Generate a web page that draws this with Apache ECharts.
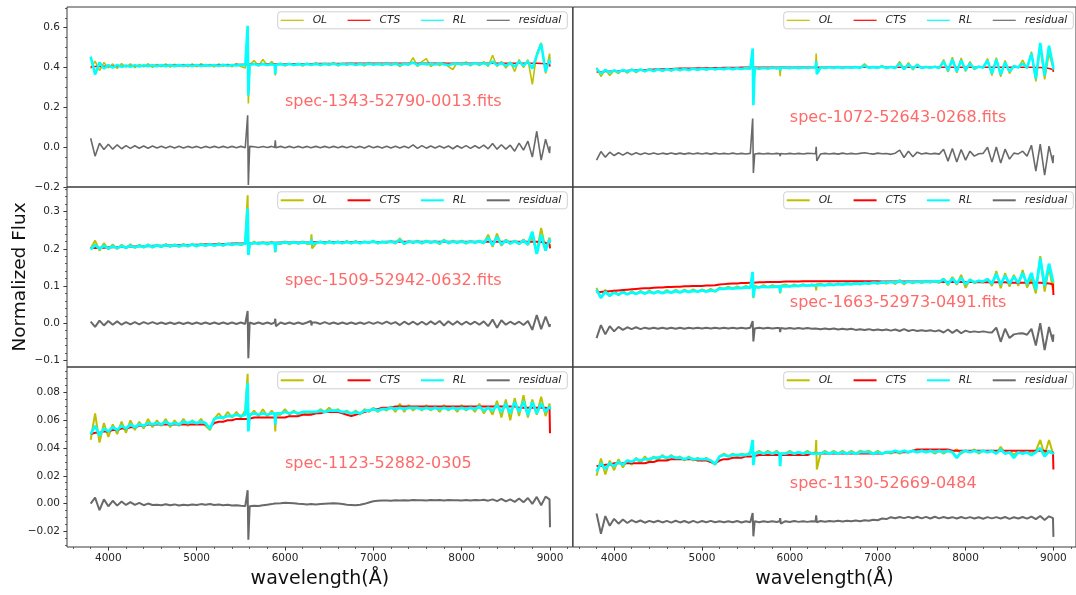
<!DOCTYPE html>
<html>
<head>
<meta charset="utf-8">
<script src="https://cdn.jsdelivr.net/npm/echarts@6/dist/echarts.min.js"></script>
<style>
html,body{margin:0;padding:0;background:#fff}
#chart{width:1076px;height:595px}
</style>
</head>
<body>
<div id="chart"></div>
<script>
// Sampled wavelengths (Angstrom), shared by every spectrum
const WAVE = [
  3800,3850,3900,3950,4000,4050,4100,4150,
  4200,4250,4300,4350,4400,4450,4500,4550,
  4600,4650,4700,4750,4800,4850,4900,4950,
  5000,5050,5100,5150,5200,5250,5300,5350,
  5400,5450,5500,5550,5570,5577,5585,
  5600,5650,5700,5750,5800,5850,5883,5890,5897,
  5950,6000,6050,6100,6150,6200,6250,6293,6300,6307,
  6350,6400,6450,6500,6550,6600,6650,6700,
  6750,6800,6850,6900,6950,7000,7050,7100,
  7150,7200,7250,7300,7350,7400,7450,7500,
  7550,7600,7650,7700,7750,7800,7850,7900,
  7950,8000,8050,8100,8150,8200,8250,8300,
  8350,8400,8450,8500,8550,8600,8650,8700,
  8750,8800,8850,8900,8950,8995,9000
];

// ---- spec-1343-52790-0013 ----
const OL_1343 = [
  0.395,0.432,0.385,0.425,0.398,0.418,0.395,0.42,
  0.402,0.418,0.400,0.416,0.403,0.419,0.401,0.415,
  0.404,0.418,0.402,0.417,0.405,0.416,0.403,0.418,
  0.404,0.419,0.405,0.415,0.403,0.418,0.406,0.417,
  0.404,0.42,0.405,0.398,0.43,0.58,0.22,
  0.415,0.435,0.408,0.44,0.41,0.43,0.412,0.36,0.41,
  0.422,0.408,0.421,0.41,0.42,0.407,0.422,0.41,0.42,0.412,
  0.423,0.409,0.42,0.41,0.424,0.408,0.421,0.411,
  0.422,0.41,0.42,0.408,0.424,0.412,0.42,0.41,
  0.423,0.41,0.422,0.405,0.42,0.412,0.45,0.405,
  0.43,0.445,0.405,0.422,0.41,0.425,0.405,0.39,
  0.425,0.412,0.428,0.408,0.425,0.41,0.43,0.405,
  0.462,0.405,0.43,0.398,0.428,0.38,0.44,0.40,
  0.44,0.315,0.47,0.524,0.37,0.47,0.44
];
const CTS_1343 = [
  0.404,0.405,0.405,0.406,0.406,0.407,0.407,0.407,
  0.408,0.408,0.408,0.409,0.409,0.409,0.41,0.41,
  0.41,0.41,0.411,0.411,0.411,0.411,0.412,0.412,
  0.412,0.412,0.413,0.412,0.413,0.413,0.414,0.414,
  0.414,0.415,0.415,0.416,0.416,0.416,0.416,
  0.416,0.417,0.417,0.417,0.418,0.418,0.418,0.416,0.418,
  0.418,0.418,0.419,0.419,0.419,0.419,0.419,0.419,0.419,0.419,
  0.42,0.42,0.42,0.42,0.42,0.42,0.42,0.421,
  0.421,0.421,0.421,0.421,0.421,0.421,0.421,0.421,
  0.421,0.421,0.421,0.421,0.421,0.421,0.421,0.421,
  0.421,0.421,0.421,0.421,0.421,0.421,0.421,0.421,
  0.421,0.421,0.421,0.421,0.421,0.421,0.421,0.421,
  0.421,0.421,0.421,0.421,0.421,0.421,0.421,0.421,
  0.421,0.421,0.421,0.42,0.419,0.418,0.405
];
const RL_1343 = [
  0.455,0.365,0.425,0.395,0.412,0.40,0.413,0.403,
  0.41,0.404,0.412,0.405,0.411,0.406,0.412,0.406,
  0.412,0.407,0.413,0.407,0.412,0.408,0.413,0.408,
  0.413,0.408,0.412,0.409,0.413,0.408,0.414,0.409,
  0.413,0.41,0.414,0.41,0.42,0.61,0.26,
  0.413,0.418,0.412,0.418,0.413,0.417,0.413,0.367,0.414,
  0.417,0.413,0.418,0.413,0.417,0.414,0.418,0.414,0.418,0.414,
  0.418,0.414,0.418,0.415,0.419,0.414,0.418,0.415,
  0.419,0.414,0.418,0.415,0.419,0.415,0.418,0.415,
  0.419,0.415,0.419,0.414,0.418,0.416,0.425,0.413,
  0.42,0.416,0.419,0.415,0.42,0.416,0.413,0.418,
  0.42,0.416,0.42,0.415,0.421,0.416,0.422,0.414,
  0.43,0.412,0.422,0.41,0.422,0.405,0.43,0.41,
  0.43,0.395,0.46,0.52,0.38,0.44,0.42
];
const RES_1343 = [
  0.045,-0.045,0.02,-0.012,0.015,-0.01,0.012,-0.008,
  0.008,-0.006,0.007,-0.005,0.006,-0.005,0.006,-0.004,
  0.005,-0.004,0.005,-0.004,0.005,-0.004,0.004,-0.003,
  0.004,-0.004,0.004,-0.003,0.004,-0.003,0.004,-0.003,
  0.004,-0.003,0.004,-0.003,0.005,0.16,-0.19,
  0.004,0.002,-0.002,0.003,-0.002,0.004,-0.002,0.035,-0.003,
  0.004,-0.003,0.004,-0.003,0.004,-0.003,0.004,-0.003,0.004,-0.003,
  0.004,-0.003,0.004,-0.003,0.004,-0.003,0.004,-0.003,
  0.005,-0.003,0.004,-0.004,0.006,-0.003,0.004,-0.004,
  0.005,-0.004,0.005,-0.004,0.005,-0.004,0.012,-0.006,
  0.008,-0.005,0.006,-0.004,0.006,-0.004,0.006,-0.008,
  0.007,-0.005,0.008,-0.006,0.007,-0.005,0.01,-0.008,
  0.018,-0.01,0.012,-0.01,0.01,-0.02,0.02,-0.015,
  0.03,-0.05,0.08,-0.065,0.04,-0.03,0.005
];

// ---- spec-1072-52643-0268 ----
const OL_1072 = [
  0.40,0.355,0.39,0.36,0.385,0.37,0.39,0.372,
  0.392,0.375,0.39,0.378,0.393,0.38,0.392,0.382,
  0.394,0.382,0.395,0.384,0.396,0.386,0.396,0.386,
  0.397,0.388,0.398,0.389,0.397,0.39,0.399,0.39,
  0.399,0.391,0.40,0.392,0.40,0.47,0.22,
  0.40,0.392,0.40,0.393,0.401,0.394,0.40,0.357,0.40,
  0.402,0.395,0.401,0.396,0.402,0.396,0.40,0.398,0.47,0.39,
  0.403,0.396,0.403,0.397,0.404,0.396,0.403,0.398,
  0.404,0.398,0.418,0.398,0.404,0.397,0.41,0.395,
  0.405,0.396,0.43,0.39,0.425,0.388,0.418,0.396,
  0.404,0.398,0.405,0.395,0.44,0.378,0.452,0.373,
  0.448,0.38,0.43,0.39,0.406,0.398,0.445,0.36,
  0.45,0.353,0.435,0.37,0.41,0.40,0.437,0.395,
  0.48,0.33,0.50,0.34,0.47,0.40,0.38
];
const CTS_1072 = [
  0.378,0.379,0.38,0.381,0.382,0.383,0.384,0.385,
  0.386,0.387,0.388,0.389,0.39,0.391,0.392,0.393,
  0.394,0.394,0.395,0.396,0.396,0.397,0.397,0.398,
  0.398,0.398,0.399,0.399,0.399,0.40,0.40,0.40,
  0.40,0.401,0.401,0.401,0.401,0.401,0.401,
  0.401,0.401,0.402,0.402,0.402,0.402,0.402,0.401,0.402,
  0.402,0.402,0.402,0.402,0.402,0.402,0.402,0.402,0.402,0.402,
  0.402,0.402,0.402,0.402,0.402,0.402,0.402,0.402,
  0.402,0.402,0.402,0.402,0.402,0.402,0.402,0.402,
  0.402,0.402,0.402,0.402,0.402,0.402,0.402,0.402,
  0.402,0.402,0.402,0.402,0.402,0.402,0.402,0.402,
  0.402,0.402,0.402,0.402,0.402,0.402,0.402,0.402,
  0.402,0.402,0.402,0.402,0.401,0.401,0.401,0.401,
  0.401,0.40,0.40,0.399,0.395,0.39,0.378
];
const RL_1072 = [
  0.395,0.37,0.388,0.374,0.386,0.377,0.388,0.379,
  0.389,0.381,0.39,0.382,0.39,0.383,0.391,0.384,
  0.392,0.386,0.393,0.387,0.393,0.388,0.394,0.389,
  0.394,0.39,0.395,0.391,0.395,0.392,0.396,0.392,
  0.396,0.393,0.397,0.394,0.40,0.496,0.211,
  0.398,0.395,0.398,0.395,0.399,0.396,0.399,0.385,0.399,
  0.40,0.397,0.40,0.397,0.40,0.398,0.40,0.40,0.43,0.367,
  0.401,0.398,0.401,0.398,0.402,0.398,0.401,0.399,
  0.402,0.399,0.41,0.399,0.402,0.399,0.405,0.398,
  0.403,0.398,0.42,0.392,0.415,0.395,0.412,0.398,
  0.403,0.399,0.404,0.397,0.43,0.385,0.44,0.38,
  0.435,0.388,0.42,0.395,0.404,0.40,0.435,0.37,
  0.44,0.365,0.425,0.38,0.408,0.40,0.42,0.398,
  0.47,0.345,0.524,0.36,0.51,0.41,0.39
];
const RES_1072 = [
  -0.065,-0.022,-0.05,-0.025,-0.042,-0.028,-0.04,-0.027,
  -0.038,-0.028,-0.037,-0.029,-0.036,-0.029,-0.036,-0.03,
  -0.035,-0.029,-0.035,-0.03,-0.035,-0.03,-0.034,-0.03,
  -0.034,-0.03,-0.035,-0.03,-0.034,-0.031,-0.034,-0.03,
  -0.034,-0.031,-0.034,-0.031,-0.03,0.144,-0.13,
  -0.034,-0.031,-0.034,-0.031,-0.034,-0.031,-0.033,-0.045,-0.032,
  -0.034,-0.031,-0.034,-0.031,-0.034,-0.031,-0.032,-0.033,0.0015,-0.069,
  -0.034,-0.031,-0.034,-0.031,-0.035,-0.03,-0.034,-0.031,
  -0.034,-0.031,-0.028,-0.032,-0.035,-0.03,-0.033,-0.032,
  -0.036,-0.03,-0.015,-0.052,-0.02,-0.048,-0.025,-0.034,
  -0.03,-0.034,-0.031,-0.035,-0.01,-0.07,-0.007,-0.074,
  -0.012,-0.065,-0.02,-0.045,-0.033,-0.031,0.0,-0.075,
  0.001,-0.08,-0.01,-0.06,-0.03,-0.034,-0.02,-0.045,
  0.01,-0.12,0.015,-0.141,0.005,-0.08,-0.04
];

// ---- spec-1509-52942-0632 ----
const OL_1509 = [
  0.20,0.222,0.195,0.215,0.198,0.212,0.199,0.211,
  0.201,0.212,0.202,0.211,0.203,0.212,0.203,0.211,
  0.204,0.213,0.205,0.212,0.205,0.213,0.206,0.212,
  0.206,0.214,0.207,0.213,0.208,0.215,0.208,0.214,
  0.209,0.216,0.21,0.215,0.22,0.344,0.19,
  0.211,0.219,0.212,0.218,0.211,0.219,0.213,0.19,0.214,
  0.213,0.22,0.212,0.219,0.213,0.22,0.213,0.214,0.239,0.201,
  0.214,0.22,0.213,0.221,0.214,0.22,0.214,0.221,
  0.214,0.221,0.214,0.22,0.215,0.222,0.214,0.22,
  0.215,0.221,0.214,0.228,0.212,0.221,0.215,0.222,
  0.214,0.222,0.215,0.221,0.212,0.225,0.214,0.222,
  0.215,0.222,0.214,0.221,0.215,0.222,0.214,0.238,
  0.205,0.241,0.208,0.225,0.213,0.222,0.212,0.225,
  0.21,0.232,0.19,0.256,0.198,0.23,0.215
];
const CTS_1509 = [
  0.202,0.202,0.203,0.203,0.204,0.204,0.205,0.205,
  0.205,0.206,0.206,0.207,0.207,0.207,0.208,0.208,
  0.208,0.209,0.209,0.209,0.21,0.21,0.21,0.211,
  0.211,0.211,0.212,0.212,0.212,0.213,0.213,0.213,
  0.214,0.214,0.214,0.215,0.215,0.215,0.215,
  0.215,0.215,0.216,0.216,0.216,0.216,0.216,0.215,0.216,
  0.217,0.217,0.217,0.217,0.217,0.217,0.217,0.217,0.217,0.217,
  0.218,0.218,0.218,0.218,0.218,0.218,0.218,0.218,
  0.218,0.218,0.218,0.218,0.218,0.218,0.218,0.218,
  0.219,0.219,0.219,0.219,0.219,0.219,0.219,0.219,
  0.219,0.219,0.219,0.219,0.219,0.219,0.219,0.219,
  0.219,0.219,0.219,0.219,0.219,0.219,0.219,0.219,
  0.219,0.219,0.219,0.219,0.219,0.219,0.219,0.219,
  0.219,0.219,0.219,0.218,0.216,0.212,0.201
];
const RL_1509 = [
  0.198,0.21,0.2,0.208,0.201,0.207,0.202,0.207,
  0.203,0.208,0.204,0.208,0.205,0.209,0.205,0.209,
  0.206,0.21,0.207,0.21,0.207,0.21,0.208,0.211,
  0.208,0.211,0.209,0.212,0.209,0.212,0.21,0.213,
  0.211,0.213,0.212,0.214,0.215,0.308,0.183,
  0.213,0.216,0.214,0.216,0.214,0.216,0.215,0.192,0.215,
  0.215,0.217,0.215,0.217,0.215,0.217,0.216,0.216,0.225,0.212,
  0.216,0.218,0.216,0.218,0.216,0.218,0.216,0.218,
  0.216,0.218,0.216,0.218,0.217,0.219,0.216,0.218,
  0.217,0.219,0.216,0.224,0.214,0.219,0.217,0.219,
  0.216,0.22,0.217,0.219,0.215,0.222,0.216,0.219,
  0.217,0.219,0.216,0.219,0.217,0.22,0.216,0.23,
  0.21,0.232,0.212,0.222,0.215,0.22,0.214,0.222,
  0.212,0.246,0.186,0.238,0.195,0.226,0.218
];
const RES_1509 = [
  0.004,-0.01,0.007,-0.006,0.006,-0.004,0.005,-0.004,
  0.003,-0.003,0.003,-0.003,0.003,-0.002,0.003,-0.002,
  0.002,-0.002,0.002,-0.002,0.002,-0.002,0.002,-0.002,
  0.002,-0.002,0.002,-0.002,0.002,-0.002,0.002,-0.002,
  0.002,-0.002,0.002,-0.002,0.003,0.033,-0.094,
  0.002,-0.002,0.002,-0.002,0.002,-0.002,0.002,0.012,-0.008,
  0.002,-0.002,0.002,-0.002,0.002,-0.002,0.002,0.006,-0.006,0.002,
  0.002,-0.002,0.003,-0.002,0.002,-0.002,0.002,-0.002,
  0.002,-0.002,0.002,-0.002,0.003,-0.002,0.003,-0.002,
  0.004,-0.002,0.003,-0.005,0.004,-0.003,0.004,-0.004,
  0.004,-0.004,0.005,-0.003,0.006,-0.006,0.005,-0.004,
  0.005,-0.004,0.004,-0.003,0.004,-0.004,0.005,-0.008,
  0.01,-0.012,0.008,-0.004,0.004,-0.003,0.004,-0.005,
  0.006,-0.018,0.022,-0.016,0.018,-0.01,-0.002
];

// ---- spec-1663-52973-0491 ----
const OL_1663 = [
  0.095,0.068,0.09,0.072,0.088,0.075,0.087,0.077,
  0.086,0.078,0.087,0.079,0.088,0.08,0.087,0.081,
  0.089,0.082,0.09,0.083,0.09,0.084,0.091,0.085,
  0.091,0.086,0.092,0.085,0.096,0.092,0.098,0.093,
  0.099,0.094,0.1,0.095,0.1,0.13,0.067,
  0.101,0.096,0.102,0.097,0.102,0.098,0.1,0.08,0.101,
  0.104,0.098,0.104,0.099,0.105,0.1,0.104,0.1,0.088,0.105,
  0.106,0.101,0.107,0.102,0.107,0.103,0.108,0.104,
  0.109,0.104,0.109,0.105,0.11,0.106,0.111,0.106,
  0.113,0.105,0.116,0.104,0.114,0.107,0.113,0.108,
  0.112,0.109,0.113,0.108,0.12,0.102,0.124,0.103,
  0.13,0.095,0.118,0.107,0.114,0.109,0.12,0.1,
  0.14,0.094,0.135,0.098,0.13,0.1,0.143,0.096,
  0.12,0.08,0.18,0.085,0.15,0.09,0.11
];
const CTS_1663 = [
  0.083,0.084,0.085,0.086,0.087,0.088,0.089,0.09,
  0.091,0.092,0.093,0.094,0.094,0.095,0.096,0.096,
  0.097,0.097,0.098,0.098,0.099,0.099,0.1,0.1,
  0.1,0.101,0.101,0.102,0.104,0.105,0.106,0.107,
  0.107,0.108,0.108,0.109,0.109,0.109,0.109,
  0.11,0.11,0.11,0.111,0.111,0.111,0.111,0.111,0.111,
  0.112,0.112,0.112,0.112,0.113,0.113,0.113,0.113,0.113,0.113,
  0.113,0.113,0.113,0.113,0.113,0.113,0.113,0.113,
  0.113,0.113,0.113,0.113,0.113,0.113,0.112,0.112,
  0.112,0.112,0.112,0.112,0.112,0.112,0.112,0.112,
  0.112,0.112,0.112,0.112,0.111,0.111,0.111,0.111,
  0.111,0.111,0.111,0.111,0.11,0.11,0.11,0.11,
  0.11,0.11,0.11,0.109,0.109,0.109,0.109,0.109,
  0.109,0.109,0.109,0.108,0.107,0.104,0.076
];
const RL_1663 = [
  0.09,0.068,0.084,0.074,0.082,0.077,0.083,0.078,
  0.083,0.079,0.084,0.08,0.084,0.081,0.085,0.081,
  0.085,0.082,0.086,0.083,0.087,0.084,0.087,0.085,
  0.088,0.085,0.088,0.086,0.093,0.092,0.094,0.093,
  0.095,0.094,0.096,0.095,0.097,0.138,0.07,
  0.097,0.096,0.098,0.097,0.098,0.098,0.099,0.083,0.099,
  0.1,0.099,0.101,0.1,0.102,0.101,0.102,0.102,0.104,0.102,
  0.103,0.102,0.104,0.103,0.105,0.104,0.106,0.105,
  0.107,0.106,0.108,0.107,0.109,0.108,0.11,0.109,
  0.111,0.109,0.113,0.108,0.112,0.11,0.112,0.111,
  0.112,0.111,0.113,0.111,0.118,0.106,0.12,0.107,
  0.122,0.105,0.116,0.11,0.114,0.112,0.118,0.106,
  0.132,0.104,0.128,0.106,0.125,0.108,0.135,0.105,
  0.135,0.09,0.174,0.1,0.16,0.112,0.115
];
const RES_1663 = [
  -0.04,-0.005,-0.03,-0.008,-0.022,-0.01,-0.018,-0.011,
  -0.016,-0.011,-0.016,-0.012,-0.015,-0.012,-0.015,-0.012,
  -0.015,-0.012,-0.015,-0.012,-0.015,-0.012,-0.014,-0.012,
  -0.014,-0.012,-0.014,-0.012,-0.014,-0.012,-0.014,-0.012,
  -0.014,-0.012,-0.014,-0.012,-0.012,0.006,-0.049,
  -0.014,-0.012,-0.014,-0.012,-0.014,-0.013,-0.013,-0.024,-0.013,
  -0.015,-0.013,-0.015,-0.013,-0.015,-0.013,-0.015,-0.014,-0.01,-0.016,
  -0.016,-0.014,-0.016,-0.014,-0.017,-0.015,-0.017,-0.015,
  -0.018,-0.016,-0.018,-0.016,-0.019,-0.017,-0.019,-0.017,
  -0.02,-0.017,-0.021,-0.016,-0.021,-0.018,-0.021,-0.019,
  -0.021,-0.019,-0.022,-0.019,-0.025,-0.017,-0.026,-0.018,
  -0.027,-0.02,-0.024,-0.022,-0.024,-0.022,-0.024,-0.025,
  -0.012,-0.05,-0.015,-0.04,-0.03,-0.028,-0.027,-0.031,
  -0.015,-0.06,0.0,-0.072,-0.01,-0.05,-0.03
];

// ---- spec-1123-52882-0305 ----
const OL_1123 = [
  0.046,0.065,0.044,0.058,0.048,0.057,0.05,0.059,
  0.051,0.06,0.053,0.059,0.054,0.061,0.055,0.06,
  0.056,0.061,0.055,0.06,0.056,0.061,0.056,0.06,
  0.057,0.061,0.056,0.053,0.061,0.065,0.061,0.066,
  0.062,0.066,0.062,0.067,0.066,0.0935,0.055,
  0.063,0.067,0.063,0.068,0.063,0.067,0.064,0.052,0.064,
  0.064,0.068,0.064,0.067,0.064,0.066,0.064,0.065,0.066,0.065,
  0.065,0.068,0.066,0.069,0.066,0.068,0.065,0.067,
  0.064,0.067,0.064,0.068,0.066,0.069,0.066,0.069,
  0.067,0.07,0.066,0.072,0.066,0.071,0.067,0.07,
  0.067,0.071,0.067,0.07,0.066,0.071,0.067,0.07,
  0.066,0.071,0.067,0.07,0.066,0.072,0.065,0.07,
  0.064,0.074,0.062,0.075,0.06,0.076,0.063,0.078,
  0.062,0.075,0.064,0.077,0.063,0.072,0.068
];
const CTS_1123 = [
  0.05,0.051,0.051,0.052,0.052,0.053,0.053,0.054,
  0.054,0.055,0.055,0.056,0.056,0.057,0.057,0.057,
  0.057,0.057,0.057,0.057,0.057,0.057,0.057,0.057,
  0.057,0.057,0.057,0.055,0.058,0.059,0.059,0.06,
  0.06,0.061,0.061,0.061,0.061,0.061,0.061,
  0.061,0.062,0.062,0.062,0.062,0.062,0.062,0.06,0.062,
  0.062,0.062,0.063,0.063,0.063,0.064,0.064,0.064,0.064,0.064,
  0.065,0.065,0.066,0.066,0.066,0.066,0.065,0.064,
  0.063,0.064,0.065,0.066,0.067,0.068,0.068,0.069,
  0.069,0.069,0.07,0.07,0.07,0.07,0.07,0.07,
  0.07,0.07,0.07,0.07,0.07,0.07,0.07,0.07,
  0.07,0.07,0.07,0.07,0.07,0.07,0.07,0.07,
  0.07,0.07,0.07,0.07,0.07,0.07,0.069,0.069,
  0.069,0.069,0.069,0.069,0.069,0.068,0.0506
];
const RL_1123 = [
  0.05,0.056,0.049,0.054,0.052,0.055,0.053,0.056,
  0.054,0.057,0.055,0.057,0.056,0.058,0.057,0.058,
  0.057,0.059,0.057,0.058,0.057,0.059,0.058,0.059,
  0.058,0.059,0.058,0.054,0.061,0.062,0.062,0.063,
  0.063,0.064,0.063,0.064,0.064,0.0868,0.052,
  0.064,0.065,0.064,0.065,0.064,0.065,0.065,0.057,0.065,
  0.065,0.066,0.065,0.066,0.065,0.066,0.066,0.066,0.066,0.066,
  0.066,0.067,0.066,0.067,0.067,0.067,0.066,0.066,
  0.065,0.066,0.065,0.067,0.067,0.068,0.067,0.068,
  0.068,0.069,0.068,0.069,0.068,0.069,0.069,0.069,
  0.068,0.069,0.068,0.069,0.068,0.069,0.068,0.069,
  0.068,0.069,0.068,0.069,0.068,0.07,0.067,0.069,
  0.067,0.071,0.066,0.072,0.065,0.073,0.066,0.0735,
  0.064,0.073,0.065,0.072,0.066,0.07,0.068
];
const RES_1123 = [
  0.0,0.0043,-0.0048,0.003,-0.002,0.002,-0.0015,0.0015,
  -0.001,0.001,-0.001,0.0005,-0.0012,0.0,-0.001,-0.0008,
  -0.0012,-0.0005,-0.0012,-0.0006,-0.0014,-0.0008,-0.0012,-0.0006,
  -0.001,-0.0004,-0.0008,-0.0003,-0.001,-0.0006,-0.0012,-0.0008,
  -0.0014,-0.0012,-0.0016,-0.0018,-0.002,0.0096,-0.026,
  -0.002,-0.0016,-0.0018,-0.0012,-0.0008,-0.0004,0.0,-0.0006,0.0002,
  0.0003,0.0006,0.0004,0.0002,-0.0002,-0.0004,-0.0006,-0.0004,-0.0005,-0.0004,
  -0.0006,-0.0004,-0.0002,0.0,0.0002,0.0,-0.0004,-0.0008,
  -0.001,-0.0012,-0.0008,-0.0002,0.0008,0.0016,0.002,0.0022,
  0.0022,0.002,0.0024,0.0022,0.0024,0.0022,0.0025,0.0023,
  0.0024,0.0022,0.0025,0.0023,0.0026,0.0022,0.0025,0.0023,
  0.0024,0.0022,0.0026,0.0022,0.0025,0.0023,0.0027,0.0021,
  0.003,0.0018,0.0034,0.0016,0.003,0.0012,0.0036,0.001,
  0.004,-0.0002,0.0048,-0.0012,0.005,0.003,-0.017
];

// ---- spec-1130-52669-0484 ----
const OL_1130 = [
  0.02,0.0325,0.021,0.031,0.024,0.032,0.026,0.031,
  0.028,0.033,0.029,0.034,0.03,0.034,0.031,0.035,
  0.032,0.035,0.032,0.034,0.031,0.034,0.031,0.033,
  0.031,0.033,0.03,0.028,0.034,0.036,0.034,0.036,
  0.034,0.036,0.035,0.037,0.036,0.044,0.03,
  0.036,0.038,0.036,0.038,0.036,0.038,0.036,0.029,0.036,
  0.036,0.038,0.036,0.037,0.036,0.038,0.036,0.037,0.0458,0.0246,
  0.036,0.038,0.036,0.038,0.036,0.038,0.036,0.038,
  0.036,0.038,0.037,0.038,0.036,0.038,0.036,0.037,
  0.036,0.038,0.036,0.038,0.037,0.038,0.037,0.038,
  0.037,0.038,0.036,0.038,0.036,0.038,0.037,0.039,
  0.036,0.038,0.037,0.039,0.036,0.038,0.037,0.038,
  0.036,0.041,0.036,0.038,0.035,0.038,0.036,0.038,
  0.036,0.038,0.0458,0.035,0.0458,0.036,0.037
];
const CTS_1130 = [
  0.027,0.027,0.028,0.028,0.029,0.029,0.029,0.029,
  0.029,0.029,0.029,0.029,0.03,0.03,0.031,0.031,
  0.031,0.032,0.032,0.032,0.032,0.032,0.032,0.031,
  0.031,0.031,0.03,0.029,0.031,0.032,0.032,0.033,
  0.033,0.033,0.034,0.034,0.034,0.034,0.034,
  0.034,0.035,0.035,0.035,0.035,0.035,0.035,0.033,0.035,
  0.035,0.035,0.035,0.035,0.035,0.035,0.036,0.036,0.036,0.036,
  0.036,0.036,0.036,0.036,0.036,0.036,0.036,0.036,
  0.036,0.036,0.036,0.036,0.036,0.036,0.036,0.037,
  0.037,0.037,0.037,0.037,0.037,0.038,0.039,0.039,
  0.039,0.039,0.039,0.039,0.039,0.039,0.038,0.038,
  0.038,0.038,0.038,0.038,0.038,0.038,0.038,0.038,
  0.038,0.038,0.038,0.038,0.038,0.038,0.038,0.038,
  0.038,0.038,0.038,0.038,0.037,0.037,0.0246
];
const RL_1130 = [
  0.023,0.029,0.025,0.029,0.027,0.03,0.028,0.031,
  0.03,0.032,0.031,0.032,0.032,0.033,0.033,0.034,
  0.033,0.034,0.033,0.033,0.032,0.033,0.032,0.032,
  0.032,0.032,0.031,0.0284,0.034,0.035,0.034,0.035,
  0.035,0.035,0.035,0.036,0.036,0.0458,0.0277,
  0.036,0.037,0.036,0.037,0.036,0.037,0.036,0.027,0.036,
  0.036,0.037,0.036,0.037,0.036,0.037,0.036,0.036,0.037,0.036,
  0.036,0.037,0.036,0.037,0.036,0.037,0.036,0.037,
  0.036,0.037,0.037,0.037,0.036,0.037,0.036,0.037,
  0.037,0.038,0.037,0.038,0.037,0.038,0.037,0.038,
  0.037,0.038,0.037,0.038,0.037,0.038,0.037,0.033,
  0.037,0.038,0.037,0.038,0.037,0.038,0.037,0.038,
  0.036,0.039,0.036,0.037,0.033,0.037,0.036,0.037,
  0.035,0.037,0.04,0.034,0.038,0.036,0.037
];
const RES_1130 = [
  -0.0072,-0.0217,-0.009,-0.016,-0.011,-0.0145,-0.0115,-0.014,
  -0.012,-0.0135,-0.0122,-0.0138,-0.0125,-0.0135,-0.0124,-0.0136,
  -0.0125,-0.0137,-0.0124,-0.0136,-0.0126,-0.0138,-0.0125,-0.0137,
  -0.0126,-0.0135,-0.0125,-0.0135,-0.0128,-0.0134,-0.0127,-0.0135,
  -0.0126,-0.0136,-0.0127,-0.0135,-0.013,-0.0068,-0.0236,
  -0.0128,-0.0134,-0.0127,-0.0133,-0.0128,-0.0133,-0.0128,-0.0105,-0.0145,
  -0.0127,-0.0133,-0.0126,-0.0132,-0.0127,-0.0132,-0.0128,-0.013,-0.0085,-0.0135,
  -0.0126,-0.0131,-0.0125,-0.013,-0.0124,-0.0129,-0.0124,-0.0128,
  -0.0122,-0.0127,-0.012,-0.0124,-0.0116,-0.012,-0.0108,-0.0112,
  -0.0098,-0.0106,-0.0097,-0.0105,-0.0096,-0.0106,-0.0095,-0.0107,
  -0.0096,-0.0108,-0.0095,-0.0107,-0.0097,-0.0106,-0.0098,-0.0108,
  -0.0097,-0.0107,-0.0098,-0.0108,-0.0099,-0.0109,-0.0098,-0.0107,
  -0.0098,-0.0108,-0.0097,-0.011,-0.0099,-0.0108,-0.0097,-0.0109,
  -0.0094,-0.0112,-0.009,-0.0118,-0.0092,-0.0105,-0.024
];

// Axis ticks and labels
const X_MAJOR = [4000, 5000, 6000, 7000, 8000, 9000];
const X_MINOR = [3600, 3800, 4200, 4400, 4600, 4800, 5200, 5400, 5600, 5800, 6200, 6400,
                 6600, 6800, 7200, 7400, 7600, 7800, 8200, 8400, 8600, 8800, 9200];
const ROW_MAJOR = [
  [-0.2, 0.0, 0.2, 0.4, 0.6],
  [-0.1, 0.0, 0.1, 0.2, 0.3],
  [-0.02, 0.0, 0.02, 0.04, 0.06, 0.08]
];
const ROW_MINOR_STEP = [0.05, 0.02, 0.005];
const ROW_DECIMALS = [1, 1, 2];
const SERIES_NAMES = ['OL', 'CTS', 'RL', 'residual'];

// Panel layout and styling
const X_RANGE = [3532, 9257];
const ROW_RANGE = [[-0.2, 0.704], [-0.1177, 0.366], [-0.0313, 0.0984]];
const COL_LEFT = [67, 573];
const ROW_TOP = [7, 187, 367];
const PANEL_W = 505.7, PANEL_H = 180;
const COLORS = ['#bfbf00', '#ff0000', '#00ffff', '#696969'];
// line widths per row for OL, CTS, RL, residual
const ROW_WIDTHS = [[1.6, 1.5, 2.6, 1.6], [2, 2, 2.8, 2], [2, 2, 2.8, 2]];
const FRAME = '#3a3a3a', TEXT = '#262626', FONT = 'DejaVu Sans';

const PANELS = [
  { title: 'spec-1343-52790-0013.fits', row: 0, col: 0, ty: 0.2,   sets: [OL_1343, CTS_1343, RL_1343, RES_1343] },
  { title: 'spec-1072-52643-0268.fits', row: 0, col: 1, ty: 0.12,  sets: [OL_1072, CTS_1072, RL_1072, RES_1072] },
  { title: 'spec-1509-52942-0632.fits', row: 1, col: 0, ty: 0.1,   sets: [OL_1509, CTS_1509, RL_1509, RES_1509] },
  { title: 'spec-1663-52973-0491.fits', row: 1, col: 1, ty: 0.04,  sets: [OL_1663, CTS_1663, RL_1663, RES_1663] },
  { title: 'spec-1123-52882-0305',      row: 2, col: 0, ty: 0.025, sets: [OL_1123, CTS_1123, RL_1123, RES_1123] },
  { title: 'spec-1130-52669-0484',      row: 2, col: 1, ty: 0.01,  sets: [OL_1130, CTS_1130, RL_1130, RES_1130] }
];

function minorTicks(row) {
  const [lo, hi] = ROW_RANGE[row], step = ROW_MINOR_STEP[row];
  const out = [];
  for (let k = Math.ceil(lo / step); k * step <= hi + 1e-9; k++) {
    const v = +(k * step).toFixed(6);
    if (!ROW_MAJOR[row].some(m => Math.abs(m - v) < 1e-9)) out.push(v);
  }
  return out;
}
function fmt(v, d) {
  return (v < -1e-12 ? '\u2212' : '') + Math.abs(v).toFixed(d);
}

const grid = [], xAxis = [], yAxis = [], series = [], legend = [];

PANELS.forEach((p, gi) => {
  const left = COL_LEFT[p.col], top = ROW_TOP[p.row];
  const bottomRow = p.row === 2, leftCol = p.col === 0;
  grid.push({ left, top, width: PANEL_W, height: PANEL_H, show: true,
    borderColor: FRAME, borderWidth: 1, backgroundColor: 'transparent' });

  const xi = xAxis.length;
  xAxis.push({
    type: 'value', gridIndex: gi, position: 'bottom', min: X_RANGE[0], max: X_RANGE[1],
    axisLine: { show: false, onZero: false }, splitLine: { show: false },
    axisTick: { show: bottomRow, customValues: X_MAJOR, length: 3.6, lineStyle: { color: FRAME, width: 1 } },
    axisLabel: { show: bottomRow, customValues: X_MAJOR, margin: 6, fontSize: 10.5, color: TEXT,
      fontFamily: FONT, formatter: v => String(Math.round(v)) },
    name: bottomRow ? 'wavelength(\u00c5)' : '', nameLocation: 'middle', nameGap: 23,
    nameTextStyle: { fontSize: 19, color: '#111', fontFamily: FONT }
  });
  if (bottomRow) {
    xAxis.push({
      type: 'value', gridIndex: gi, position: 'bottom', offset: 0, min: X_RANGE[0], max: X_RANGE[1],
      axisLine: { show: false, onZero: false }, splitLine: { show: false },
      axisTick: { show: true, customValues: X_MINOR, length: 2, lineStyle: { color: FRAME, width: 0.8 } },
      axisLabel: { show: false }
    });
  }

  const yi = yAxis.length;
  const d = ROW_DECIMALS[p.row];
  yAxis.push({
    type: 'value', gridIndex: gi, position: 'left', min: ROW_RANGE[p.row][0], max: ROW_RANGE[p.row][1],
    axisLine: { show: false, onZero: false }, splitLine: { show: false },
    axisTick: { show: leftCol, customValues: ROW_MAJOR[p.row], length: 3.6, lineStyle: { color: FRAME, width: 1 } },
    axisLabel: { show: leftCol, customValues: ROW_MAJOR[p.row], margin: 7, fontSize: 10.5, color: TEXT,
      fontFamily: FONT, formatter: v => fmt(v, d) },
    name: (leftCol && p.row === 1) ? 'Normalized Flux' : '', nameLocation: 'middle', nameGap: 37,
    nameRotate: 90, nameTextStyle: { fontSize: 18.5, color: '#111', fontFamily: FONT }
  });
  if (leftCol) {
    yAxis.push({
      type: 'value', gridIndex: gi, position: 'left', offset: 0, min: ROW_RANGE[p.row][0], max: ROW_RANGE[p.row][1],
      axisLine: { show: false, onZero: false }, splitLine: { show: false },
      axisTick: { show: true, customValues: minorTicks(p.row), length: 2, lineStyle: { color: FRAME, width: 0.8 } },
      axisLabel: { show: false }
    });
  }

  p.sets.forEach((vals, si) => {
    series.push({
      type: 'line', name: SERIES_NAMES[si], xAxisIndex: xi, yAxisIndex: yi,
      data: WAVE.map((w, k) => [w, vals[k]]),
      symbol: 'none', showSymbol: false, silent: true, animation: false,
      lineStyle: { color: COLORS[si], width: ROW_WIDTHS[p.row][si], join: 'bevel' },
      itemStyle: { color: COLORS[si] },
      z: 2 + si
    });
  });

  series.push({
    type: 'scatter', name: p.title, xAxisIndex: xi, yAxisIndex: yi, silent: true, animation: false,
    symbolSize: 0, data: [[6000, p.ty]], z: 10,
    label: { show: true, position: 'right', distance: 0, offset: [0, -5.5], formatter: () => p.title,
      fontSize: 16, color: '#ff4444', fontFamily: FONT }
  });

  legend.push({
    data: SERIES_NAMES, left: left + 210.7, top: top + 4.8, width: 300, orient: 'horizontal',
    icon: 'rect', itemWidth: 23, itemHeight: p.row === 0 ? 1.2 : 2, itemGap: 20.5, padding: [3, 6, 3, 3],
    backgroundColor: 'rgba(255,255,255,0.8)', borderColor: '#d0d0d0', borderWidth: 1, borderRadius: 3,
    textStyle: { fontFamily: FONT, fontStyle: 'italic', fontSize: 10.7, color: TEXT, padding: [0, 0, 0, 4] },
    selectedMode: false
  });
});

const chart = echarts.init(document.getElementById('chart'), null, { renderer: 'canvas' });
chart.setOption({ animation: false, backgroundColor: '#ffffff', grid, xAxis, yAxis, series, legend });
</script>
</body>
</html>
